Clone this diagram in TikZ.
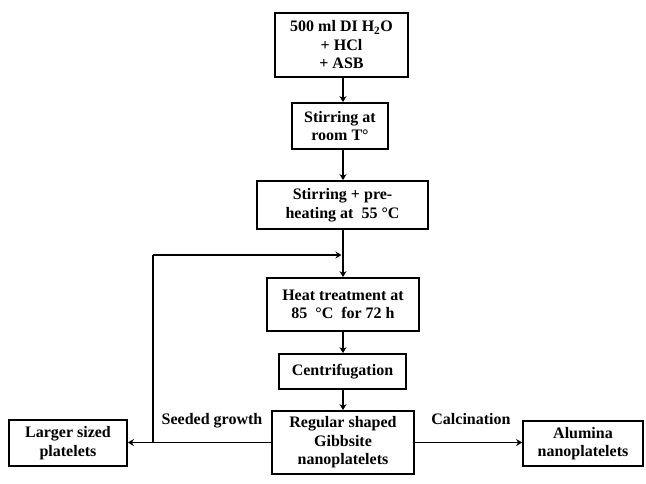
\documentclass[tikz,border=0pt]{standalone}
\usepackage{fontspec}
\setmainfont{Liberation Serif}
\usetikzlibrary{arrows.meta}
\begin{document}
\begin{tikzpicture}[x=1pt,y=-1pt,
  box/.style={draw, line width=1.8pt, align=center, inner sep=0pt,
    font=\fontsize{16}{18.5}\selectfont\bfseries},
  lbl/.style={inner sep=0pt, font=\fontsize{16}{18.5}\selectfont\bfseries},
  arr/.style={line width=1.8pt, -{Stealth[length=6pt,width=7pt,inset=2pt]}},
  ln/.style={line width=1.8pt}]
\useasboundingbox (0,0) rectangle (646,484);
\node[box, minimum width=133pt, minimum height=64pt] (b1) at (341.5,45) {500 ml DI H\textsubscript{2}O\\+ HCl\\+ ASB};
\node[box, minimum width=96pt, minimum height=46pt] (b2) at (340,126) {Stirring at\\room T°};
\node[box, minimum width=171pt, minimum height=48pt] (b3) at (342.5,205) {Stirring + pre-\\heating at\ \ 55 °C};
\node[box, minimum width=152pt, minimum height=53pt] (b4) at (343,304.5) {Heat treatment at\\85\ \ °C\ \ for 72 h};
\node[box, minimum width=127pt, minimum height=35pt] (b5) at (342.5,371.5) {Centrifugation};
\node[box, minimum width=142pt, minimum height=63pt] (b6) at (343,442.5) {Regular shaped\\Gibbsite\\nanoplatelets};
\node[box, minimum width=118pt, minimum height=46pt] (b7) at (68,443) {Larger sized\\platelets};
\node[box, minimum width=120pt, minimum height=45pt] (b8) at (583,443.5) {Alumina\\nanoplatelets};
\node[lbl] (sg) at (212,421) {Seeded growth};
\node[lbl] (cal) at (471,419) {Calcination};
\coordinate (j) at (343,255);
\coordinate (k) at (153,255);
\draw[arr] (b1.south -| j) -- (b2.north -| j);
\draw[arr] (b2.south -| j) -- (b3.north -| j);
\draw[arr] (b3.south -| j) -- (b4.north -| j);
\draw[arr] (b4.south -| j) -- (b5.north -| j);
\draw[arr] (b5.south -| j) -- (b6.north -| j);
\draw[arr] (b6.west) -- (b6.west -| b7.east);
\draw[ln] (b6.west -| k) -- (k);
\draw[arr, shorten >=1.5pt] (k) -- (j);
\draw[arr] (b6.east) -- (b6.east -| b8.west);
\end{tikzpicture}
\end{document}
